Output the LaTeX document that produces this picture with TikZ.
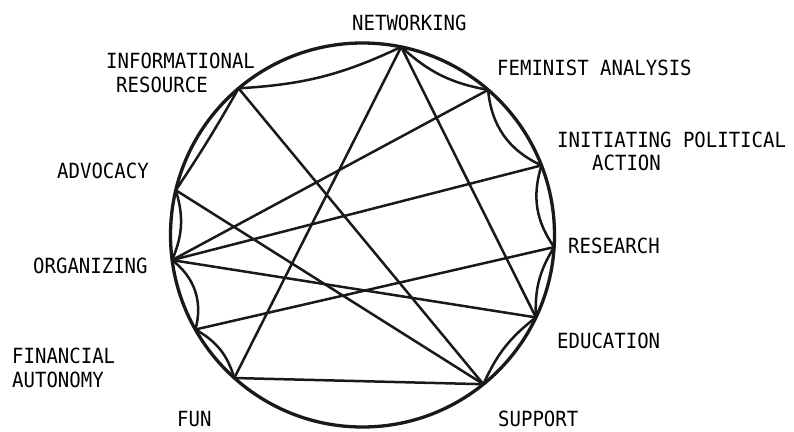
\documentclass[tikz,border=0pt]{standalone}
\usepackage{fontspec}
\setmonofont{DejaVu Sans Mono}
\begin{document}
\begin{tikzpicture}[x=1pt,y=-1pt,
  chord/.style={line width=2.5pt,line cap=round,line join=round,draw=black!90},
  rim/.style={line width=3.3pt,draw=black!90},
  lbl/.style={font=\ttfamily\fontsize{19}{19}\selectfont,inner sep=0pt,anchor=base west,text=black}]
\useasboundingbox (0,0) rectangle (794,431);
\fill[white] (0,0) rectangle (794,431);
\draw[rim] (362.5,235) circle[radius=192pt];
% points on the rim
\coordinate (net)  at (401.2,46.9);
\coordinate (info) at (238.6,88.3);
\coordinate (fem)  at (488.1,89.9);
\coordinate (init) at (541.5,165.4);
\coordinate (adv)  at (175.8,190.2);
\coordinate (org)  at (172.1,260.1);
\coordinate (res)  at (554.1,247.1);
\coordinate (edu)  at (535.9,317.4);
\coordinate (fin)  at (195.4,329.5);
\coordinate (fun)  at (234.3,378.0);
\coordinate (sup)  at (483.4,384.2);
% labels
\node[lbl] (lnet)  at (352,30) {\scalebox{1}[1.1]{NETWORKING}};
\node[lbl] (linfo1) at (106,68) {\scalebox{1}[1.1]{INFORMATIONAL}};
\node[lbl] (linfo2) at (116,92) {\scalebox{1}[1.1]{RESOURCE}};
\node[lbl] (lfem)  at (497,75) {\scalebox{1}[1.1]{FEMINIST ANALYSIS}};
\node[lbl] (linit1) at (557,147) {\scalebox{1}[1.1]{INITIATING POLITICAL}};
\node[lbl] (linit2) at (592,170) {\scalebox{1}[1.1]{ACTION}};
\node[lbl] (ladv)  at (57,178) {\scalebox{1}[1.1]{ADVOCACY}};
\node[lbl] (lorg)  at (33,273) {\scalebox{1}[1.1]{ORGANIZING}};
\node[lbl] (lfin1) at (12,363) {\scalebox{1}[1.1]{FINANCIAL}};
\node[lbl] (lfin2) at (12,387) {\scalebox{1}[1.1]{AUTONOMY}};
\node[lbl] (lfun)  at (177,426) {\scalebox{1}[1.1]{FUN}};
\node[lbl] (lres)  at (568,253) {\scalebox{1}[1.1]{RESEARCH}};
\node[lbl] (ledu)  at (557,348) {\scalebox{1}[1.1]{EDUCATION}};
\node[lbl] (lsup)  at (498,426) {\scalebox{1}[1.1]{SUPPORT}};
% straight chords
\draw[chord] (net) -- (fun);
\draw[chord] (net) -- (edu);
\draw[chord] (info) -- (sup);
\draw[chord] (fem) -- (org);
\draw[chord] (init) -- (org);
\draw[chord] (adv) -- (sup);
\draw[chord] (org) -- (edu);
\draw[chord] (fin) -- (res);
\draw[chord] (fun) -- (sup);
\draw[chord] (info) to[bend left=2] (adv);
% curved links between neighbours
\draw[chord] (net) to[bend left=11] (info);
\draw[chord] (fem) to[bend left=16] (net);
\draw[chord] (init) to[bend left=30] (fem);
\draw[chord] (res) to[bend left=26] (init);
\draw[chord] (edu) to[bend left=17] (res);
\draw[chord] (sup) to[bend left=14] (edu);
\draw[chord] (adv) to[bend left=20] (org);
\draw[chord] (org) to[bend left=34] (fin);
\draw[chord] (fin) to[bend left=22] (fun);
\end{tikzpicture}
\end{document}
